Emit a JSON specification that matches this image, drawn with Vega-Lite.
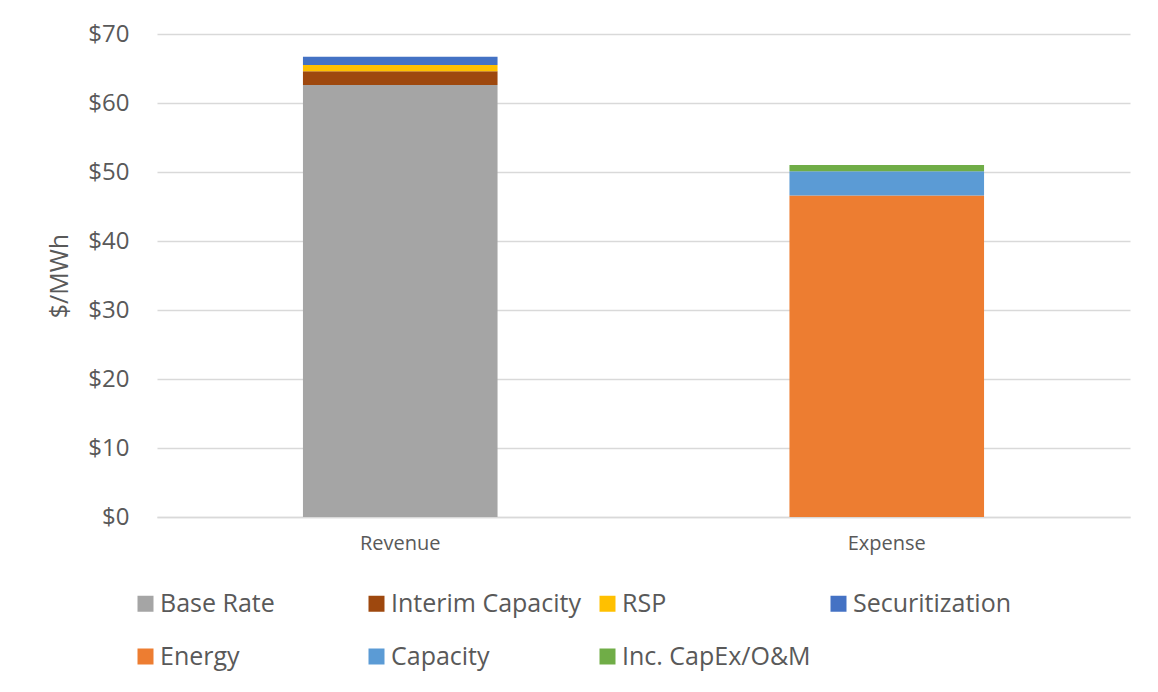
{
  "$schema": "https://vega.github.io/schema/vega-lite/v6.json",
  "autosize": {"type": "none"},
  "width": 973,
  "height": 483,
  "padding": {"left": 157, "top": 34, "right": 28, "bottom": 175},
  "background": "#ffffff",
  "data": {
    "values": [
      {"side": "Revenue", "component": "Base Rate", "value": 62.6, "ord": 1},
      {"side": "Revenue", "component": "Interim Capacity", "value": 2.0, "ord": 2},
      {"side": "Revenue", "component": "RSP", "value": 0.9, "ord": 3},
      {"side": "Revenue", "component": "Securitization", "value": 1.2, "ord": 4},
      {"side": "Expense", "component": "Energy", "value": 46.6, "ord": 5},
      {"side": "Expense", "component": "Capacity", "value": 3.5, "ord": 6},
      {"side": "Expense", "component": "Inc. CapEx/O&M", "value": 0.9, "ord": 7}
    ]
  },
  "mark": {"type": "bar"},
  "encoding": {
    "x": {
      "field": "side",
      "type": "nominal",
      "sort": ["Revenue", "Expense"],
      "scale": {"paddingInner": 0.6, "paddingOuter": 0.3},
      "axis": {
        "title": null,
        "labelAngle": 0,
        "labelFontSize": 20,
        "labelPadding": 16,
        "ticks": false,
        "domainColor": "#d9d9d9",
        "domainWidth": 1.3
      }
    },
    "y": {
      "field": "value",
      "type": "quantitative",
      "stack": "zero",
      "scale": {"domain": [0, 70], "nice": false},
      "axis": {
        "title": "$/MWh",
        "titleFontSize": 25,
        "titleFontWeight": "normal",
        "titleColor": "#595959",
        "titlePadding": 15,
        "values": [0, 10, 20, 30, 40, 50, 60, 70],
        "format": "$.0f",
        "labelFontSize": 24,
        "labelPadding": 28,
        "ticks": false,
        "domain": false,
        "grid": true,
        "gridColor": "#d9d9d9",
        "gridWidth": 1.3
      }
    },
    "color": {
      "field": "component",
      "type": "nominal",
      "scale": {
        "domain": ["Base Rate", "Interim Capacity", "RSP", "Securitization", "Energy", "Capacity", "Inc. CapEx/O&M"],
        "range": ["#A5A5A5", "#9E480E", "#FFC000", "#4472C4", "#ED7D31", "#5B9BD5", "#70AD47"]
      },
      "legend": {
        "title": null,
        "orient": "none",
        "legendX": -24,
        "legendY": 557,
        "direction": "horizontal",
        "columns": 4,
        "gridAlign": "all",
        "symbolType": "square",
        "symbolSize": 256,
        "symbolStrokeWidth": 0,
        "symbolOffset": 0,
        "labelOffset": 2,
        "labelFontSize": 25,
        "labelColor": "#595959",
        "labelLimit": 400,
        "columnPadding": 14,
        "rowPadding": 27
      }
    },
    "order": {"field": "ord", "type": "quantitative"}
  },
  "config": {
    "font": "Open Sans",
    "view": {"stroke": null},
    "axis": {"labelColor": "#595959", "labelFont": "Open Sans", "titleFont": "Open Sans"},
    "legend": {"labelFont": "Open Sans"}
  }
}
